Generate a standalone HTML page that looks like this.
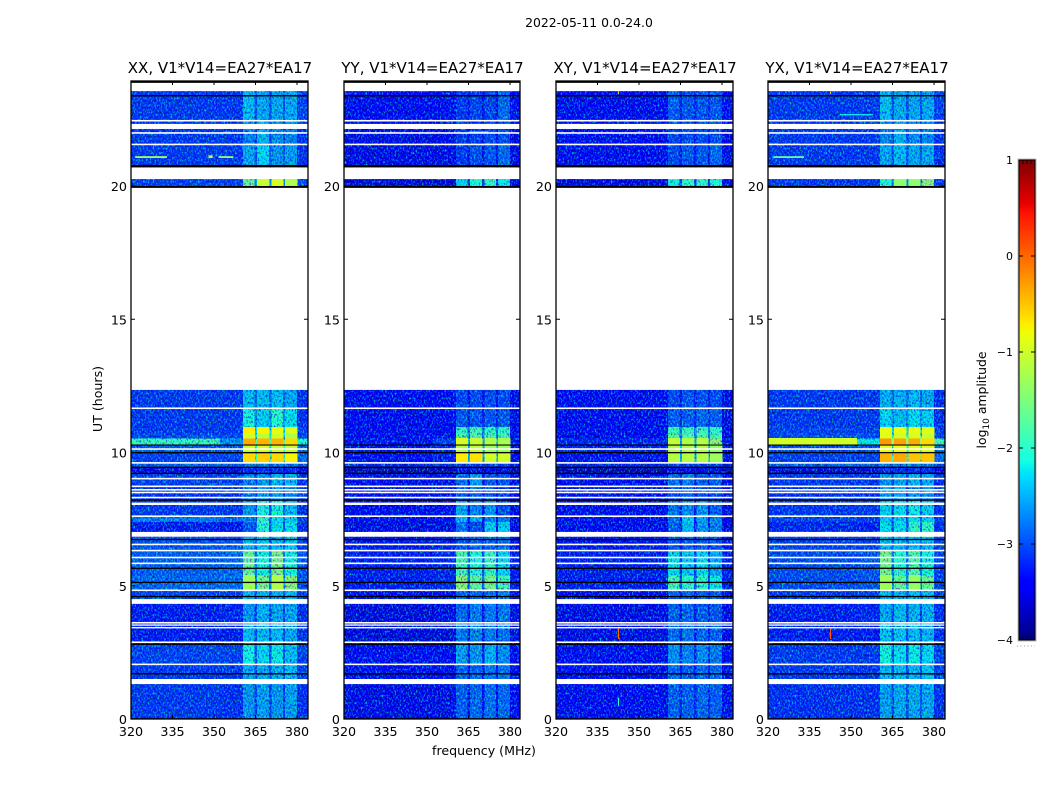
<!DOCTYPE html>
<html>
<head>
<meta charset="utf-8">
<title>2022-05-11 amplitude waterfall</title>
<style>
html,body{margin:0;padding:0;background:#fff;}
svg{display:block;}
text{font-family:"DejaVu Sans","Liberation Sans",sans-serif;fill:#000;}
</style>
</head>
<body>
<svg id="chart" xmlns="http://www.w3.org/2000/svg" width="1050" height="800" viewBox="0 0 1050 800">
<defs>
<filter id="grain" x="0" y="0" width="100%" height="100%" color-interpolation-filters="sRGB">
<feTurbulence type="fractalNoise" baseFrequency="0.62 0.42" numOctaves="2" seed="7"/>
<feColorMatrix type="matrix" values="0 0 0 0 0.5  1.2 0 0 0 -0.1  0 0.8 0 0 0.1  0 0 0 0 1"/>
</filter>
</defs>
</svg>
<script>
// ---------- data ----------
const panelTitles = ["XX, V1*V14=EA27*EA17","YY, V1*V14=EA27*EA17","XY, V1*V14=EA27*EA17","YX, V1*V14=EA27*EA17"];
const xTickLabels = [320,335,350,365,380];
const yTickLabels = [0,5,10,15,20];
const colorbarTickLabels = [-4,-3,-2,-1,0,1];

// Time-band edges (UT hours)
const utEdges = [0,1.4,2.05,2.85,3.55,4.4,4.85,5.4,6.3,6.85,7.4,7.6,8.2,8.75,9.25,9.44,9.62,9.98,10.32,10.54,10.73,10.96,11.66,12.35,20,20.79,21.6,22.4,23.56];
// Frequency segments (MHz) and the value column each one reads
const freqLow  = [320,352,360.5,364.7,365.6,369.9,370.7,375,375.7,380];
const freqHigh = [352,360.5,364.7,365.6,369.9,370.7,375,375.7,380,384];
const freqColumn = [0,1,2,7,3,7,4,7,5,6];

// log10 amplitude per time band: [bg-low, bg-high, sb1, sb2, sb3, sb4, tail, gap]; null = no data
const xxValues = [
[-3.15,-3.2,-2.65,-2.6,-2.65,-2.6,-3.2,-3.1],
[-3.15,-3.15,-2.55,-2.55,-2.5,-2.45,-3.1,-3.0],
[-3.1,-3.1,-2.15,-2.3,-2.2,-2.45,-3.1,-3.0],
[-3.3,-3.3,-2.45,-2.45,-2.45,-2.55,-3.2,-3.0],
[-3.3,-3.25,-2.65,-2.5,-2.55,-2.55,-3.2,-3.1],
[-3.1,-3.1,-2.45,-2.45,-2.5,-2.45,-3.1,-3.0],
[-2.9,-2.85,-1.3,-1.6,-1.2,-1.5,-3.0,-2.7],
[-2.95,-2.9,-1.7,-2.15,-1.6,-2.15,-3.0,-2.8],
[-3.0,-3.0,-2.45,-2.35,-2.45,-2.35,-3.1,-2.9],
[-3.3,-3.35,-3.0,-2.1,-2.25,-2.25,-3.2,-3.0],
[-2.8,-2.9,-2.75,-2.0,-2.25,-2.35,-3.1,-2.9],
[-3.15,-3.15,-2.65,-2.15,-2.15,-2.45,-3.2,-3.0],
[-3.2,-3.2,-2.85,-2.65,-2.65,-2.75,-3.1,-3.1],
[-3.1,-3.1,-2.75,-2.65,-2.45,-2.45,-3.2,-3.1],
[-3.55,-3.55,-3.2,-3.2,-3.2,-3.2,-3.55,-3.5],
[-2.95,-2.95,-2.8,-2.8,-2.8,-2.8,-3.0,-2.95],
[-3.1,-3.1,-0.6,-0.55,-0.6,-0.75,-2.9,-1.9],
[-3.0,-3.0,-1.0,-0.95,-1.0,-1.05,-2.9,-2.0],
[-1.95,-2.7,-0.35,-0.4,-0.4,-0.6,-2.1,-1.7],
[-3.05,-3.05,-1.0,-1.1,-1.0,-1.2,-3.1,-2.2],
[-3.15,-3.15,-0.7,-0.75,-0.85,-0.9,-3.1,-2.3],
[-3.15,-3.15,-2.15,-2.35,-2.05,-2.25,-3.2,-2.7],
[-3.15,-3.15,-2.45,-2.45,-2.45,-2.55,-3.2,-2.9],
null,
[-3.1,-3.1,-1.7,-1.05,-0.95,-1.2,-3.1,-2.7],
[-3.15,-3.15,-2.55,-2.3,-2.65,-2.6,-3.2,-3.0],
[-3.15,-3.15,-2.75,-2.5,-2.7,-2.75,-3.2,-3.1],
[-3.15,-3.15,-2.45,-2.55,-2.55,-2.55,-3.1,-3.0]
];
const yyValues = [
[-3.5,-3.5,-2.95,-2.9,-2.85,-2.9,-3.45,-3.35],
[-3.45,-3.45,-2.9,-2.9,-2.8,-2.8,-3.45,-3.35],
[-3.45,-3.45,-2.6,-2.65,-2.5,-2.7,-3.45,-3.3],
[-3.55,-3.55,-2.8,-2.75,-2.8,-2.85,-3.5,-3.35],
[-3.55,-3.5,-2.9,-2.8,-2.8,-2.8,-3.5,-3.35],
[-3.45,-3.4,-2.9,-2.9,-2.85,-2.8,-3.45,-3.35],
[-3.3,-3.25,-1.5,-1.75,-1.6,-1.9,-3.3,-2.9],
[-3.3,-3.25,-1.9,-2.1,-1.95,-2.3,-3.3,-3.0],
[-3.35,-3.3,-3.0,-2.9,-2.9,-2.9,-3.4,-3.25],
[-3.5,-3.5,-2.85,-3.05,-2.35,-2.35,-3.5,-3.35],
[-3.4,-3.4,-2.45,-2.55,-2.75,-2.85,-3.5,-3.35],
[-3.45,-3.45,-2.55,-2.75,-2.65,-3.05,-3.5,-3.35],
[-3.45,-3.45,-3.0,-3.0,-3.05,-3.15,-3.5,-3.35],
[-3.4,-3.4,-2.8,-2.6,-3.0,-3.0,-3.5,-3.35],
[-3.75,-3.75,-3.5,-3.5,-3.5,-3.5,-3.75,-3.7],
[-3.25,-3.25,-3.1,-3.1,-3.1,-3.1,-3.3,-3.2],
[-3.4,-3.3,-0.7,-0.65,-1.0,-1.0,-3.4,-2.5],
[-3.4,-3.25,-1.15,-1.1,-1.3,-1.3,-3.4,-2.5],
[-3.35,-3.1,-0.95,-1.05,-1.2,-1.25,-3.3,-2.4],
[-3.45,-3.4,-1.9,-1.8,-1.9,-1.9,-3.5,-2.8],
[-3.45,-3.45,-2.0,-1.9,-2.0,-2.0,-3.5,-2.8],
[-3.45,-3.45,-3.0,-3.0,-3.0,-3.0,-3.5,-3.25],
[-3.45,-3.45,-3.05,-3.05,-3.05,-3.05,-3.5,-3.35],
null,
[-3.6,-3.6,-2.3,-2.1,-2.0,-2.2,-3.5,-3.1],
[-3.5,-3.5,-3.15,-3.05,-3.0,-2.9,-3.5,-3.35],
[-3.5,-3.5,-3.15,-3.15,-3.05,-3.05,-3.5,-3.35],
[-3.45,-3.45,-3.15,-3.1,-3.1,-2.9,-3.4,-3.35]
];
const xyValues = [
[-3.4,-3.4,-2.95,-2.95,-2.9,-2.95,-3.4,-3.25],
[-3.4,-3.4,-2.9,-2.95,-2.9,-2.9,-3.4,-3.25],
[-3.4,-3.4,-2.7,-2.75,-2.7,-2.8,-3.4,-3.25],
[-3.5,-3.5,-2.85,-2.85,-2.9,-2.95,-3.5,-3.3],
[-3.5,-3.5,-2.95,-2.9,-2.95,-3.0,-3.5,-3.3],
[-3.4,-3.4,-2.9,-2.9,-2.95,-2.95,-3.4,-3.25],
[-3.3,-3.3,-1.9,-2.05,-2.0,-2.2,-3.3,-3.0],
[-3.3,-3.3,-2.25,-2.35,-2.25,-2.55,-3.3,-3.1],
[-3.35,-3.35,-3.0,-2.95,-2.95,-3.0,-3.4,-3.25],
[-3.45,-3.45,-2.95,-2.45,-2.65,-2.75,-3.5,-3.3],
[-3.4,-3.4,-2.85,-2.35,-2.55,-2.75,-3.5,-3.3],
[-3.45,-3.45,-2.85,-2.7,-2.65,-2.95,-3.5,-3.3],
[-3.45,-3.45,-3.05,-2.95,-3.05,-3.1,-3.5,-3.3],
[-3.4,-3.4,-2.85,-2.75,-2.95,-2.95,-3.5,-3.3],
[-3.75,-3.75,-3.5,-3.5,-3.5,-3.5,-3.75,-3.7],
[-3.25,-3.25,-3.1,-3.1,-3.1,-3.1,-3.3,-3.2],
[-3.35,-3.35,-1.15,-1.15,-1.15,-1.3,-3.4,-2.5],
[-3.3,-3.3,-1.15,-1.2,-1.15,-1.4,-3.4,-2.5],
[-3.25,-3.25,-1.1,-1.2,-1.15,-1.5,-3.3,-2.5],
[-3.4,-3.4,-1.8,-1.8,-1.8,-1.9,-3.5,-2.8],
[-3.4,-3.4,-1.95,-1.95,-1.95,-2.0,-3.5,-2.8],
[-3.4,-3.4,-2.95,-2.95,-2.9,-2.95,-3.5,-3.2],
[-3.4,-3.4,-3.05,-3.0,-3.0,-3.05,-3.5,-3.3],
null,
[-3.55,-3.55,-2.15,-2.0,-2.0,-2.1,-3.5,-3.1],
[-3.45,-3.45,-3.05,-3.0,-3.0,-2.9,-3.5,-3.3],
[-3.45,-3.45,-3.1,-3.05,-3.05,-3.05,-3.5,-3.3],
[-3.4,-3.4,-2.95,-3.0,-3.0,-3.0,-3.4,-3.25]
];
const yxValues = [
[-3.2,-3.2,-2.6,-2.55,-2.55,-2.55,-3.2,-3.0],
[-3.15,-3.15,-2.45,-2.45,-2.45,-2.4,-3.1,-3.0],
[-3.15,-3.15,-2.15,-2.25,-2.2,-2.3,-3.1,-3.0],
[-3.3,-3.3,-2.4,-2.4,-2.45,-2.5,-3.2,-3.0],
[-3.3,-3.25,-2.55,-2.45,-2.5,-2.5,-3.2,-3.1],
[-3.15,-3.1,-2.45,-2.45,-2.45,-2.45,-3.1,-3.0],
[-3.05,-3.0,-1.3,-1.7,-1.35,-1.7,-3.1,-2.7],
[-3.05,-3.0,-1.6,-2.05,-1.8,-2.15,-3.1,-2.8],
[-3.1,-3.1,-2.45,-2.45,-2.45,-2.45,-3.1,-2.9],
[-3.25,-3.3,-2.25,-2.25,-2.0,-2.0,-3.2,-3.0],
[-3.1,-3.15,-2.35,-2.35,-2.25,-2.35,-3.1,-2.9],
[-3.15,-3.15,-2.35,-2.25,-2.2,-2.35,-3.2,-3.0],
[-3.2,-3.2,-2.65,-2.6,-2.65,-2.7,-3.1,-3.1],
[-3.15,-3.15,-2.65,-2.55,-2.45,-2.55,-3.2,-3.1],
[-3.6,-3.6,-3.2,-3.2,-3.2,-3.2,-3.6,-3.5],
[-2.95,-2.95,-2.8,-2.8,-2.8,-2.8,-3.0,-2.95],
[-3.1,-3.1,-0.4,-0.35,-0.5,-0.5,-2.9,-1.8],
[-3.05,-3.05,-0.85,-0.8,-0.9,-0.9,-2.9,-1.9],
[-1.0,-2.2,-0.25,-0.3,-0.35,-0.6,-1.9,-1.4],
[-3.05,-3.05,-0.9,-1.0,-0.95,-1.05,-3.1,-2.1],
[-3.1,-3.1,-0.85,-0.85,-0.85,-0.9,-3.1,-2.3],
[-3.15,-3.15,-2.3,-2.45,-2.25,-2.35,-3.2,-2.7],
[-3.15,-3.15,-2.5,-2.5,-2.45,-2.55,-3.2,-2.9],
null,
[-3.15,-3.15,-2.1,-1.4,-1.4,-1.5,-3.1,-2.7],
[-3.15,-3.15,-2.55,-2.45,-2.55,-2.55,-3.2,-3.0],
[-3.15,-3.15,-2.75,-2.5,-2.7,-2.75,-3.2,-3.1],
[-3.15,-3.15,-2.45,-2.55,-2.55,-2.55,-3.1,-3.0]
];
const panelValues = [xxValues, yyValues, xyValues, yxValues];

// Narrow interference: [freqStart, freqEnd, utStart, utEnd, log10 amplitude]
const xxRfi = [[321.5,333,21.05,21.12,-1.3],[351.6,357,21.05,21.12,-1.4],[348,349.5,21.05,21.15,-1.0]];
const yyRfi = [[365,372,22,22.05,-2.3]];
const xyRfi = [[342.4,342.8,3.0,3.4,0],[342.4,342.8,0.5,0.8,-2],[342.4,342.8,23.45,23.55,-0.5]];
const yxRfi = [[322,333,21.05,21.12,-1.7],[342.4,342.8,3.0,3.4,0.1],[342.4,342.8,23.45,23.55,-0.4],[346,358,22.65,22.7,-2.2]];
const panelRfi = [xxRfi, yyRfi, xyRfi, yxRfi];

// Flagged (no-data) and zero-amplitude time ranges, UT hours
const whiteFlags = [[1.31,1.50],[2.02,2.08],[2.85,2.91],[3.40,3.45],[3.50,3.55],[3.58,3.64],[4.32,4.50],[4.80,4.86],[5.81,5.87],[6.03,6.09],[6.29,6.35],[6.52,6.58],[6.84,7.02],[7.58,7.64],[8.03,8.12],[8.28,8.34],[8.47,8.53],[8.57,8.63],[8.70,8.76],[8.99,9.05],[9.58,9.64],[10.10,10.16],[11.63,11.69],[20.26,20.70],[21.53,21.59],[21.96,22.02],[22.14,22.33],[22.42,22.48]];
const blackFlags = [[0,0.03],[1.67,1.72],[2.78,2.83],[4.57,4.62],[5.10,5.15],[5.63,5.68],[6.71,6.76],[8.19,8.24],[9.19,9.24],[9.42,9.47],[9.97,10.02],[10.26,10.30],[19.93,20.0],[20.70,20.79],[23.36,23.41],[23.87,23.95]];

// ---------- layout ----------
const panelLefts = [131,344,556,768];
const panelWidths = [177,176,177,177];
const plotTop = 81, plotBottom = 719;
const pxPerHour = 26.65, pxPerMHz = 2.767;
const barLeft = 1019, barRight = 1035, barTop = 160, barBottom = 640;
const vMin = -4, vMax = 1;
const hotLevel = -1.5;

const yScale = ut => plotBottom - ut * pxPerHour;
const xScale = (f, left) => left + (f - 320) * pxPerMHz;
const barScale = v => barBottom - (v - vMin) / (vMax - vMin) * (barBottom - barTop);

function interp(pts, t){
  for (let i = 1; i < pts.length; i++) {
    if (t <= pts[i][0]) {
      const a = pts[i-1], b = pts[i];
      return a[1] + (b[1]-a[1]) * (t-a[0]) / (b[0]-a[0]);
    }
  }
  return pts[pts.length-1][1];
}
function jet(v){
  const t = Math.max(0, Math.min(1, (v - vMin) / (vMax - vMin)));
  const r = interp([[0,0],[0.35,0],[0.66,1],[0.89,1],[1,0.5]], t);
  const g = interp([[0,0],[0.125,0],[0.375,1],[0.64,1],[0.91,0],[1,0]], t);
  const b = interp([[0,0.5],[0.11,1],[0.34,1],[0.65,0],[1,0]], t);
  return `rgb(${Math.round(r*255)},${Math.round(g*255)},${Math.round(b*255)})`;
}

const svg = document.getElementById('chart');
const NS = 'http://www.w3.org/2000/svg';
function make(tag, attrs, parent, txt){
  const n = document.createElementNS(NS, tag);
  for (const k in attrs) n.setAttribute(k, attrs[k]);
  if (txt !== undefined) n.textContent = txt;
  (parent || svg).appendChild(n);
  return n;
}
const minus = v => String(v).replace('-', '\u2212');

// ---------- figure text ----------
const supTitle = make('text', {x:589, y:27, 'text-anchor':'middle', 'font-size':12.4}, svg, '2022-05-11 0.0-24.0');


const xTitle = make('text', {x:484, y:755, 'text-anchor':'middle', 'font-size':12.6}, svg, 'frequency (MHz)');


const yTitle = make('text', {x:0, y:0, transform:'translate(102,399) rotate(-90)', 'text-anchor':'middle', 'font-size':12.6}, svg, 'UT (hours)');



// ---------- panels ----------
panelTitles.forEach((title, p) => {
  const left = panelLefts[p];
  const panelWidth = panelWidths[p];
  const g = make('g', {});
  
  

  const clipId = 'clip' + p;
  const defs = make('clipPath', {id:clipId}, g);
  make('rect', {x:left, y:plotTop, width:panelWidth, height:plotBottom-plotTop}, defs);
  const plot = make('g', {'clip-path':`url(#${clipId})`, style:'isolation:isolate'}, g);
  
  

  function drawCells(wantHot){
    panelValues[p].forEach((row, r) => {
      if (!row) return;
      const yA = yScale(utEdges[r+1]), yB = yScale(utEdges[r]);
      freqLow.forEach((f0, c) => {
        const value = row[freqColumn[c]];
        if ((value > hotLevel) !== wantHot) return;
        const xA = xScale(f0, left), xB = xScale(freqHigh[c], left);
        const cell = make('rect', {x:xA.toFixed(2), y:yA.toFixed(2), width:(xB-xA+0.3).toFixed(2), height:(yB-yA+0.3).toFixed(2), fill:jet(value), 'shape-rendering':'crispEdges'}, plot);
        
        
      });
    });
  }
  drawCells(false);

  const grain = make('rect', {x:left, y:plotTop, width:panelWidth, height:plotBottom-plotTop, filter:'url(#grain)', style:'mix-blend-mode:hard-light'}, plot);
  
  

  drawCells(true);

  panelRfi[p].forEach(s => {
    const xA = xScale(s[0], left), xB = xScale(s[1], left);
    const yA = yScale(s[3]), yB = yScale(s[2]);
    const rfi = make('rect', {x:xA.toFixed(2), y:yA.toFixed(2), width:(xB-xA).toFixed(2), height:(yB-yA).toFixed(2), fill:jet(s[4])}, plot);
    
    
  });

  // mask above and between observed ranges
  const maskTop = make('rect', {x:left, y:plotTop, width:panelWidth, height:yScale(23.56)-plotTop, fill:'#fff'}, plot);
  
  
  const maskMid = make('rect', {x:left, y:yScale(20), width:panelWidth, height:yScale(12.35)-yScale(20), fill:'#fff'}, plot);
  
  

  whiteFlags.forEach(b => {
    const band = make('rect', {x:left, y:yScale(b[1]).toFixed(2), width:panelWidth, height:(yScale(b[0])-yScale(b[1])).toFixed(2), fill:'#fff'}, plot);
    
    
  });
  blackFlags.forEach(b => {
    const band = make('rect', {x:left, y:yScale(b[1]).toFixed(2), width:panelWidth, height:(yScale(b[0])-yScale(b[1])).toFixed(2), fill:'#000'}, plot);
    
    
  });

  const frame = make('rect', {x:left, y:plotTop, width:panelWidth, height:plotBottom-plotTop, fill:'none', stroke:'#000', 'stroke-width':1.3}, g);
  
  

  const head = make('text', {x:left+panelWidth/2+0.5, y:73, 'text-anchor':'middle', 'font-size':15}, g, title);
  
  

  xTickLabels.forEach(v => {
    const x = xScale(v, left);
    const t1 = make('line', {x1:x, x2:x, y1:plotBottom, y2:plotBottom-4, stroke:'#000', 'stroke-width':1}, g);
    
    
    const t2 = make('line', {x1:x, x2:x, y1:plotTop, y2:plotTop+4, stroke:'#000', 'stroke-width':1}, g);
    
    
    const lab = make('text', {x:x, y:736, 'text-anchor':'middle', 'font-size':12.7}, g, String(v));
    
    
  });
  yTickLabels.forEach(v => {
    const y = yScale(v);
    const t1 = make('line', {x1:left, x2:left+4, y1:y, y2:y, stroke:'#000', 'stroke-width':1}, g);
    
    
    const t2 = make('line', {x1:left+panelWidth-4, x2:left+panelWidth, y1:y, y2:y, stroke:'#000', 'stroke-width':1}, g);
    
    
    const lab = make('text', {x:left-4, y:y+5, 'text-anchor':'end', 'font-size':12.7}, g, String(v));
    
    
  });
});

// ---------- colorbar ----------
const bar = make('g', {});


for (let i = 0; i < 240; i++) {
  const v = vMin + (vMax - vMin) * i / 240;
  const v2 = vMin + (vMax - vMin) * (i + 1) / 240;
  const seg = make('rect', {x:barLeft, y:barScale(v2).toFixed(2), width:barRight-barLeft, height:(barScale(v)-barScale(v2)+0.3).toFixed(2), fill:jet((v+v2)/2), 'shape-rendering':'crispEdges'}, bar);
  
  
}
const barOuter = make('rect', {x:barLeft-1, y:barTop-1, width:barRight-barLeft+2, height:barBottom-barTop+2, fill:'none', stroke:'#bbb', 'stroke-width':1}, bar);


const barFrame = make('rect', {x:barLeft, y:barTop, width:barRight-barLeft, height:barBottom-barTop, fill:'none', stroke:'#000', 'stroke-width':1}, bar);


colorbarTickLabels.forEach(v => {
  const y = barScale(v);
  const a = make('line', {x1:barLeft, x2:barLeft+4, y1:y, y2:y, stroke:'#000'}, bar);
  
  
  const b = make('line', {x1:barRight-4, x2:barRight, y1:y, y2:y, stroke:'#000'}, bar);
  
  
  const lab = make('text', {x:barLeft-6, y:y+4, 'text-anchor':'end', 'font-size':11}, bar, minus(v));
  
  
});
[barTop, barBottom].forEach(y0 => {
  for (let i = 1; i < 4; i++) {
    const x = barLeft + (barRight - barLeft) * i / 4;
    const m = make('line', {x1:x, x2:x, y1:y0 === barTop ? y0 : y0-4, y2:y0 === barTop ? y0+4 : y0, stroke:'#000', 'stroke-width':0.8}, bar);
    
    
  }
});
const dots = make('line', {x1:1017, x2:1035, y1:646, y2:646, stroke:'#999', 'stroke-width':1, 'stroke-dasharray':'1 2.5'}, bar);


const barTitle = make('text', {x:0, y:0, transform:'translate(986,400) rotate(-90)', 'text-anchor':'middle', 'font-size':12.4}, bar);


make('tspan', {}, barTitle, 'log');
make('tspan', {'font-size':9, dy:3}, barTitle, '10');
make('tspan', {dy:-3}, barTitle, ' amplitude');
</script>
</body>
</html>
